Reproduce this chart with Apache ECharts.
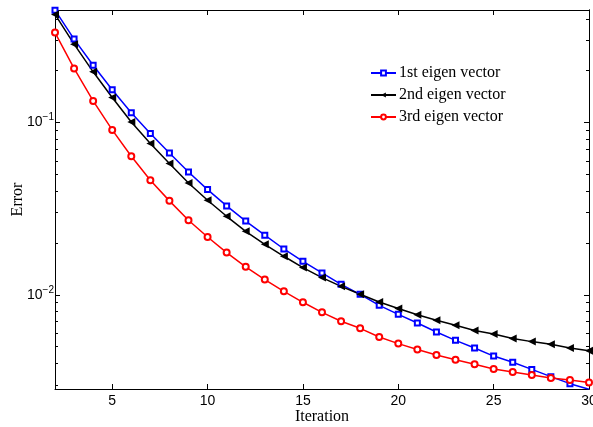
<!DOCTYPE html>
<html>
<head>
<meta charset="utf-8">
<script src="https://cdn.jsdelivr.net/npm/echarts@6/dist/echarts.min.js"></script>
<style>
  html, body { margin: 0; padding: 0; background: #fff; }
  #chart { width: 593px; height: 427px; }
</style>
</head>
<body>
<div id="chart"></div>
<script>
var iterations = [2, 3, 4, 5, 6, 7, 8, 9, 10, 11, 12, 13, 14, 15, 16, 17, 18, 19, 20, 21, 22, 23, 24, 25, 26, 27, 28, 29, 30];
var firstVec = [0.449, 0.305, 0.215, 0.155, 0.114, 0.0863, 0.0666, 0.0516, 0.0408, 0.0328, 0.0268, 0.0222, 0.01845, 0.01565, 0.01339, 0.01151, 0.01007, 0.00869, 0.0077, 0.00686, 0.00608, 0.00544, 0.00491, 0.00441, 0.00406, 0.00369, 0.00335, 0.00305, 0.00283];
var secondVec = [0.424, 0.285, 0.197, 0.1397, 0.1008, 0.0755, 0.0578, 0.0446, 0.0354, 0.02856, 0.02337, 0.01965, 0.01674, 0.01439, 0.01259, 0.0112, 0.01007, 0.00908, 0.00832, 0.00767, 0.00711, 0.00665, 0.0062, 0.00592, 0.00557, 0.00535, 0.00516, 0.00491, 0.00473];
var thirdVec = [0.333, 0.206, 0.1335, 0.0906, 0.0637, 0.0462, 0.0351, 0.0271, 0.02167, 0.01758, 0.01454, 0.01226, 0.01048, 0.00905, 0.00791, 0.00702, 0.00639, 0.00569, 0.00521, 0.00481, 0.00447, 0.0042, 0.00395, 0.00371, 0.00356, 0.00342, 0.00329, 0.0032, 0.0031];
var xTicks = [5, 10, 15, 20, 25, 30];
var yMajor = [0.01, 0.1];
var yMinor = [0.003, 0.004, 0.005, 0.006, 0.007, 0.008, 0.009, 0.02, 0.03, 0.04, 0.05, 0.06, 0.07, 0.08, 0.09, 0.2, 0.3, 0.4];

function pairs(ys) {
    return iterations.map(function (x, i) { return [x, ys[i]]; });
}

var yMin = 0.00284, yMax = 0.45;
var black = { color: "#000", width: 1 };

function yAxisDef(pos, ticks, len, labels) {
    return {
        type: "log",
        logBase: 10,
        position: pos,
        min: yMin,
        max: yMax,
        axisLine: { show: true, lineStyle: black },
        axisTick: { show: true, inside: true, length: len, customValues: ticks, lineStyle: black },
        splitLine: { show: false },
        axisLabel: labels ? {
            customValues: yMajor,
            margin: 1,
            fontFamily: "Liberation Sans",
            fontSize: 14,
            color: "#000",
            formatter: function (v) {
                var e = Math.round(Math.log10(v));
                return "{b|10}{s|\u2212" + Math.abs(e) + "}";
            },
            rich: {
                b: { fontFamily: "Liberation Sans", fontSize: 14, color: "#000", lineHeight: 20 },
                s: { fontFamily: "Liberation Sans", fontSize: 10, color: "#000", verticalAlign: "top", lineHeight: 14 }
            }
        } : { show: false }
    };
}

var chart = echarts.init(document.getElementById("chart"));
chart.setOption({
    animation: false,
    backgroundColor: "#fff",
    grid: { left: 55, top: 10, right: 4, bottom: 38, outerBoundsMode: "none", containLabel: false },
    legend: {
        orient: "vertical",
        left: 370,
        top: 65,
        padding: 0,
        itemWidth: 25,
        itemHeight: 6,
        itemGap: 6,
        textStyle: { fontFamily: "Liberation Serif", fontSize: 16, color: "#000", padding: [0, 0, 0, -2] },
        data: ["1st eigen vector", "2nd eigen vector", "3rd eigen vector"]
    },
    xAxis: [
        {
            type: "value",
            position: "bottom",
            min: 2,
            max: 30,
            name: "Iteration",
            nameLocation: "middle",
            nameGap: 20,
            nameMoveOverlap: false,
            nameTextStyle: { fontFamily: "Liberation Serif", fontSize: 16, color: "#000" },
            axisLine: { lineStyle: black },
            axisTick: { inside: true, length: 5, customValues: xTicks, lineStyle: black },
            splitLine: { show: false },
            axisLabel: { customValues: xTicks, margin: 5, fontFamily: "Liberation Sans", fontSize: 14, color: "#000" }
        },
        {
            type: "value",
            position: "top",
            min: 2,
            max: 30,
            axisLine: { lineStyle: black },
            axisTick: { inside: true, length: 5, customValues: xTicks, lineStyle: black },
            splitLine: { show: false },
            axisLabel: { show: false }
        }
    ],
    yAxis: [
        Object.assign(yAxisDef("left", yMajor, 5, true), {
            name: "Error",
            nameLocation: "middle",
            nameGap: 29,
            nameMoveOverlap: false,
            nameRotate: 90,
            nameTextStyle: { fontFamily: "Liberation Serif", fontSize: 16, color: "#000" }
        }),
        yAxisDef("left", yMinor, 3, false),
        yAxisDef("right", yMajor, 5, false),
        yAxisDef("right", yMinor, 3, false)
    ],
    series: [
        {
            name: "1st eigen vector",
            type: "line",
            data: pairs(firstVec),
            symbol: "emptyRect",
            symbolSize: 5,
            color: "#0000ff",
            lineStyle: { width: 1.5 },
            itemStyle: { borderWidth: 1.5 }
        },
        {
            name: "2nd eigen vector",
            type: "line",
            data: pairs(secondVec),
            symbol: "triangle",
            symbolRotate: 90,
            symbolSize: 8,
            color: "#000",
            lineStyle: { width: 1.5 }
        },
        {
            name: "3rd eigen vector",
            type: "line",
            data: pairs(thirdVec),
            symbol: "emptyCircle",
            symbolSize: 6,
            color: "#ff0000",
            lineStyle: { width: 1.5 },
            itemStyle: { borderWidth: 1.2 }
        }
    ]
});
</script>
</body>
</html>
